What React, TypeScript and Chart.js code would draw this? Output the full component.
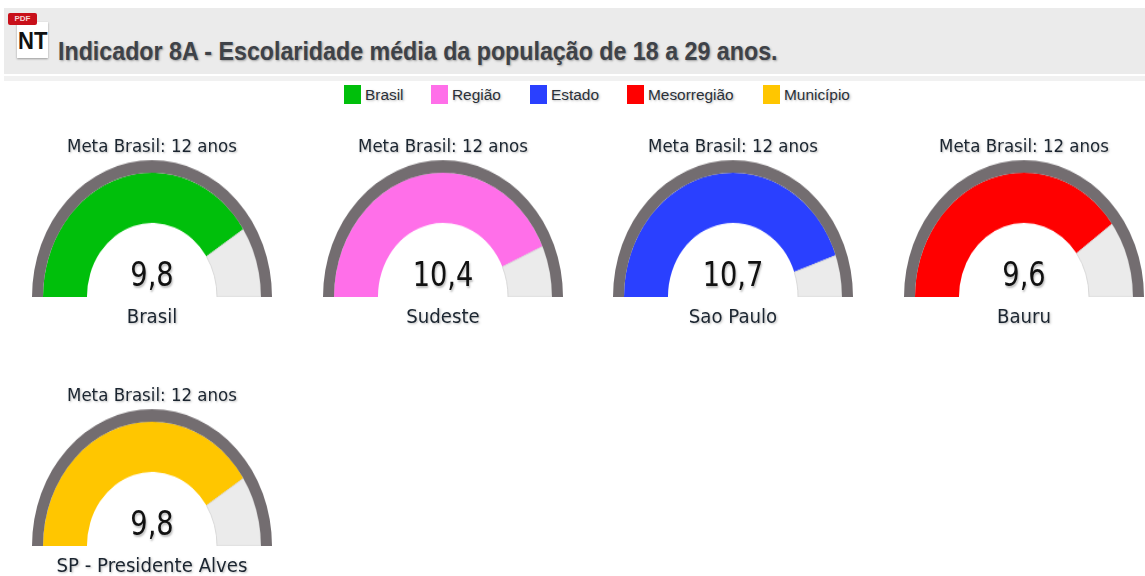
import React, { useEffect, useRef } from "react";
import { Chart, registerables } from "chart.js";

Chart.register(...registerables);

const legendLabels = ["Brasil", "Região", "Estado", "Mesorregião", "Município"];
const legendColors = ["#00bf0b", "#ff6fe9", "#2a40ff", "#ff0000", "#ffc600"];
const gaugeNames = ["Brasil", "Sudeste", "Sao Paulo", "Bauru", "SP - Presidente Alves"];
const gaugeValues = [9.8, 10.4, 10.7, 9.6, 9.8];
const gaugeTexts = ["9,8", "10,4", "10,7", "9,6", "9,8"];
const metaValue = 12;
const metaText = "Meta Brasil: 12 anos";
const titleText = "Indicador 8A - Escolaridade média da população de 18 a 29 anos.";

const cx = [152, 442.5, 733, 1023.5, 152];
const baseY = [297, 297, 297, 297, 546];
const legendX = [344, 431, 530, 627, 763];

const sans = '"DejaVu Sans", sans-serif';
const arial = '"Liberation Sans", Arial, sans-serif';

function Gauge({ i }: { i: number }) {
  const ref = useRef<HTMLCanvasElement>(null);
  useEffect(() => {
    const chart = new Chart(ref.current!, {
      type: "doughnut",
      data: {
        labels: [gaugeNames[i], "Restante"],
        datasets: [
          {
            data: [metaValue],
            backgroundColor: ["#736d70"],
            borderWidth: 0,
            weight: 11,
          },
          {
            data: [gaugeValues[i], metaValue - gaugeValues[i]],
            backgroundColor: [legendColors[i], "#ebebeb"],
            borderColor: [legendColors[i], "#d9d9d9"],
            borderWidth: [0, 1],
            weight: 44,
          },
        ],
      },
      options: {
        responsive: false,
        animation: false,
        rotation: -90,
        circumference: 180,
        cutout: "54.2%",
        layout: { padding: 0 },
        plugins: { legend: { display: false }, tooltip: { enabled: false } },
      },
    });
    return () => chart.destroy();
  }, [i]);
  return (
    <canvas
      ref={ref}
      width={240}
      height={120}
      style={{
        position: "absolute",
        left: cx[i] - 120,
        top: baseY[i] - 120,
        transformOrigin: "50% 100%",
        transform: "scaleY(1.14)",
      }}
    />
  );
}

function Label({ text, x, y, size, sx, color = "#1b2530" }: { text: string; x: number; y: number; size: number; sx: number; color?: string }) {
  return (
    <div
      style={{
        position: "absolute",
        left: x - 200,
        top: y - 25,
        width: 400,
        height: 50,
        lineHeight: "50px",
        textAlign: "center",
        fontFamily: sans,
        fontSize: size,
        color,
        whiteSpace: "nowrap",
        transform: `scale(${sx},1.14)`,
        textShadow: "1px 1px 2px rgba(60,60,60,0.35)",
      }}
    >
      {text}
    </div>
  );
}

export default function App() {
  return (
    <div style={{ position: "fixed", left: 0, top: 0, width: 1145, height: 576, overflow: "hidden", background: "#fff" }}>
      <div style={{ position: "absolute", left: 4, top: 8, width: 1141, height: 66, background: "#ebebeb" }} />
      <div style={{ position: "absolute", left: 4, top: 76, width: 1141, height: 5, background: "#f1f1f1" }} />
      <div style={{ position: "absolute", left: 17, top: 22, width: 31, height: 36, background: "#fff", boxShadow: "0 1px 2px rgba(0,0,0,0.35)" }}>
        <div style={{ position: "absolute", left: 1, top: 6, fontFamily: arial, fontWeight: 700, fontSize: 24, lineHeight: "26px", color: "#111", transform: "scaleX(0.92)", transformOrigin: "0 0" }}>NT</div>
      </div>
      <div style={{ position: "absolute", left: 8, top: 13, width: 29, height: 12, background: "#c8101a", borderRadius: 2, color: "#f6d5d5", fontFamily: arial, fontWeight: 700, fontSize: 8, lineHeight: "12px", textAlign: "center" }}>PDF</div>
      <div
        style={{
          position: "absolute",
          left: 58,
          top: 36,
          lineHeight: "30px",
          fontFamily: arial,
          fontWeight: 700,
          fontSize: 23,
          color: "#3e4248",
          whiteSpace: "nowrap",
          transformOrigin: "0 50%",
          transform: "scale(1.01,1.1)",
          textShadow: "1px 1px 2px rgba(60,60,60,0.45)",
        }}
      >
        {titleText}
      </div>
      {legendLabels.map((l, i) => (
        <React.Fragment key={l}>
          <div style={{ position: "absolute", left: legendX[i], top: 85, width: 17, height: 19, background: legendColors[i] }} />
          <div
            style={{
              position: "absolute",
              left: legendX[i] + 21,
              top: 84,
              lineHeight: "20px",
              fontFamily: arial,
              fontSize: 14,
              color: "#2a3038",
              whiteSpace: "nowrap",
              transformOrigin: "0 50%",
              transform: "scale(1.1,1.1)",
              textShadow: "1px 1px 2px rgba(60,60,60,0.35)",
            }}
          >
            {l}
          </div>
        </React.Fragment>
      ))}
      {gaugeNames.map((n, i) => (
        <React.Fragment key={i}>
          <Gauge i={i} />
          <Label text={metaText} x={cx[i]} y={baseY[i] - 151} size={16} sx={1.04} />
          <Label text={gaugeTexts[i]} x={cx[i]} y={baseY[i] - 22} size={29} sx={0.94} color="#111" />
          <Label text={n} x={cx[i]} y={baseY[i] + 20} size={16.5} sx={1.1} />
        </React.Fragment>
      ))}
    </div>
  );
}
